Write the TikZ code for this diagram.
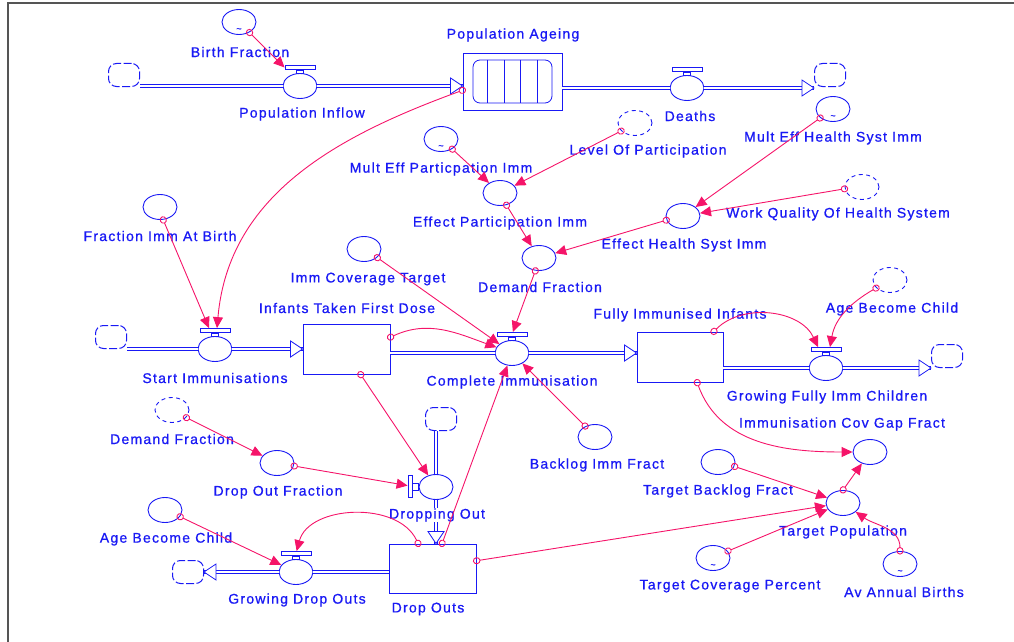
\documentclass[tikz,border=0pt]{standalone}
\usepackage{fontspec}
\newfontfamily\lblfont{Liberation Sans}[LetterSpace=9,FakeBold=0.8]
\usetikzlibrary{shapes.geometric,arrows.meta,calc}
\definecolor{linkpink}{RGB}{245,20,105}
\definecolor{sfblue}{RGB}{25,25,245}
\definecolor{framegray}{RGB}{85,85,85}
\begin{document}
\begin{tikzpicture}[x=1pt,y=1pt,
 aux/.style={ellipse, draw=sfblue, line width=0.9pt, fill=white, minimum width=34pt, minimum height=25pt, inner sep=0pt},
 ghost/.style={aux, dash pattern=on 4pt off 3.5pt},
 stockbox/.style={rectangle, draw=sfblue, line width=0.9pt, fill=white, inner sep=0pt},
 cloudbox/.style={rectangle, rounded corners=8pt, draw=sfblue, line width=1pt, dash pattern=on 8pt off 2.5pt, minimum width=31pt, minimum height=23pt, inner sep=0pt},
 hvalve/.style={rectangle, draw=sfblue, line width=0.8pt, fill=white, minimum width=30pt, minimum height=4pt, inner sep=0pt},
 vvalve/.style={rectangle, draw=sfblue, line width=0.8pt, fill=white, minimum width=4pt, minimum height=22pt, inner sep=0pt},
 valvestem/.style={draw=sfblue, line width=0.8pt, fill=white},
 pipe/.style={draw=sfblue, line width=0.8pt, double=white, double distance=2.4pt},
 link/.style={draw=linkpink, line width=0.9pt, {Circle[open,length=7.5pt,width=7pt]}-{Triangle[length=11pt,width=10pt]}, shorten <=-3.5pt},
 lbl/.style={text=sfblue, fill=white, font=\lblfont\fontsize{14}{16}\selectfont, inner sep=0.5pt},
 tilde/.style={text=sfblue, font=\lblfont\fontsize{9}{9}\selectfont, inner sep=0pt},
 fhead/.pic={\draw[sfblue, line width=0.8pt, fill=white] (0,0) -- (-12,8) -- (-12,-8) -- cycle;}
]
\useasboundingbox (0,0) rectangle (1014,-642);
\draw[framegray, line width=1.4pt] (8,-642) -- (8,-3) -- (1014,-3);

% ---------- clouds ----------
\node[cloudbox] (c1) at (124,-75) {};
\node[cloudbox] (c2) at (830,-75) {};
\node[cloudbox] (c3) at (111,-337) {};
\node[cloudbox] (c4) at (947,-356) {};
\node[cloudbox] (c5) at (441,-419) {};
\node[cloudbox] (c6) at (188,-572) {};

% ---------- stocks ----------
\node[stockbox, minimum width=99pt, minimum height=57pt] (pa) at (512.5,-81.5) {};
\draw[sfblue, line width=0.8pt, rounded corners=7pt] ($(pa)+(-39.5,21.5)$) rectangle ($(pa)+(39.5,-21.5)$);
\foreach \dx in {-25,-8,8,25} \draw[sfblue, line width=0.8pt] ($(pa)+(\dx,21.5)$) -- ($(pa)+(\dx,-21.5)$);
\node[stockbox, minimum width=87pt, minimum height=50pt] (itfd) at (346.5,-349) {};
\node[stockbox, minimum width=86pt, minimum height=50pt] (fii) at (680,-357) {};
\node[stockbox, minimum width=87pt, minimum height=49pt] (dos) at (432.5,-568.5) {};

% ---------- flows ----------
\node[aux] (pinf) at (300,-86) {};
\node[hvalve] (pinfv) at (300,-67.5) {};
\draw[valvestem] ($(pinfv.south)+(-3.5,0)$) rectangle ($(pinf.north)+(3.5,0)$);
\node[aux] (deaths) at (687,-88) {};
\node[hvalve] (deathsv) at (687,-69.5) {};
\draw[valvestem] ($(deathsv.south)+(-3.5,0)$) rectangle ($(deaths.north)+(3.5,0)$);
\node[aux] (si) at (215,-349) {};
\node[hvalve] (siv) at (215,-330.5) {};
\draw[valvestem] ($(siv.south)+(-3.5,0)$) rectangle ($(si.north)+(3.5,0)$);
\node[aux] (ci) at (512,-353) {};
\node[hvalve] (civ) at (512,-334.5) {};
\draw[valvestem] ($(civ.south)+(-3.5,0)$) rectangle ($(ci.north)+(3.5,0)$);
\node[aux] (gfic) at (826,-368) {};
\node[hvalve] (gficv) at (826,-349.5) {};
\draw[valvestem] ($(gficv.south)+(-3.5,0)$) rectangle ($(gfic.north)+(3.5,0)$);
\node[aux] (gdo) at (296,-572) {};
\node[hvalve] (gdov) at (296,-553.5) {};
\draw[valvestem] ($(gdov.south)+(-3.5,0)$) rectangle ($(gdo.north)+(3.5,0)$);
\node[aux] (do) at (436,-487) {};
\node[vvalve] (dov) at (410,-486) {};
\draw[valvestem] ($(dov.east)+(0,3)$) rectangle ($(do.west)+(0,-3)$);

% ---------- auxiliaries ----------
\node[aux] (bf) at (239,-22) {};
\node[ghost] (lop) at (635,-123) {};
\node[aux] (mehs) at (833,-109) {};
\node[aux] (mepi) at (441,-139) {};
\node[aux] (epi) at (500,-193) {};
\node[ghost] (wqhs) at (862,-187) {};
\node[aux] (ehs) at (683,-216) {};
\node[aux] (df) at (539,-258) {};
\node[aux] (fiab) at (160,-207) {};
\node[aux] (ict) at (364,-249) {};
\node[ghost] (abc1) at (890,-280) {};
\node[aux] (bif) at (595,-437) {};
\node[aux] (icgf) at (870,-452) {};
\node[aux] (tbf) at (718,-462) {};
\node[aux] (tp) at (843,-503) {};
\node[aux] (tcp) at (713,-558) {};
\node[aux] (aab) at (900,-564) {};
\node[ghost] (df2) at (172,-410) {};
\node[aux] (dof) at (277,-463) {};
\node[aux] (abc2) at (165,-510) {};

% tildes of graphical functions
\node[tilde] (bf-t) at ($(bf)+(0,-8)$) {\textasciitilde};
\node[tilde] (mehs-t) at ($(mehs)+(0,-8)$) {\textasciitilde};
\node[tilde] (mepi-t) at ($(mepi)+(0,-8)$) {\textasciitilde};
\node[tilde] (tcp-t) at ($(tcp)+(0,-8)$) {\textasciitilde};
\node[tilde] (aab-t) at ($(aab)+(0,-8)$) {\textasciitilde};

% ---------- pipes ----------
\draw[pipe] (c1.east |- pinf) -- (pinf.west);
\draw[pipe] (pinf.east) -- (pa.west |- pinf);
\pic at (pa.west |- pinf) {fhead};
\draw[pipe] (pa.east |- deaths) -- (deaths.west);
\draw[pipe] (deaths.east) -- (c2.west |- deaths);
\pic at (c2.west |- deaths) {fhead};
\draw[pipe] (c3.east |- si) -- (si.west);
\draw[pipe] (si.east) -- (itfd.west |- si);
\pic at (itfd.west |- si) {fhead};
\draw[pipe] (itfd.east |- ci) -- (ci.west);
\draw[pipe] (ci.east) -- (fii.west |- ci);
\pic at (fii.west |- ci) {fhead};
\draw[pipe] (fii.east |- gfic) -- (gfic.west);
\draw[pipe] (gfic.east) -- (c4.west |- gfic);
\pic at (c4.west |- gfic) {fhead};
\draw[pipe] (c5.south -| do) -- (do.north);
\draw[pipe] (do.south) -- (dos.north -| do);
\pic[rotate=-90] at (dos.north -| do) {fhead};
\draw[pipe] (dos.west |- gdo) -- (gdo.east);
\draw[pipe] (gdo.west) -- (c6.east |- gdo);
\pic[rotate=180] at (c6.east |- gdo) {fhead};

% ---------- labels ----------
\node[lbl] (bf-l) at (240,-52) {Birth Fraction};
\node[lbl] (pinf-l) at (302,-114) {Population Inflow};
\node[lbl] (pa-l) at (513,-35) {Population Ageing};
\node[lbl] (deaths-l) at (690,-116) {Deaths};
\node[lbl] (lop-l) at (648,-151) {Level Of Participation};
\node[lbl] (mehs-l) at (833,-138) {Mult Eff Health Syst Imm};
\node[lbl] (mepi-l) at (441,-169) {Mult Eff Particpation Imm};
\node[lbl] (epi-l) at (500,-223) {Effect Participation Imm};
\node[lbl] (wqhs-l) at (838,-214) {Work Quality Of Health System};
\node[lbl] (ehs-l) at (684,-245) {Effect Health Syst Imm};
\node[lbl] (df-l) at (540,-287) {Demand Fraction};
\node[lbl] (fiab-l) at (160,-236) {Fraction Imm At Birth};
\node[lbl] (ict-l) at (368,-279) {Imm Coverage Target};
\node[lbl] (itfd-l) at (347,-308) {Infants Taken First Dose};
\node[lbl] (si-l) at (215,-378) {Start Immunisations};
\node[lbl] (ci-l) at (512,-382) {Complete Immunisation};
\node[lbl] (fii-l) at (680,-315) {Fully Immunised Infants};
\node[lbl] (abc1-l) at (892,-309) {Age Become Child};
\node[lbl] (gfic-l) at (827,-397) {Growing Fully Imm Children};
\node[lbl] (icgf-l) at (842,-424) {Immunisation Cov Gap Fract};
\node[lbl] (bif-l) at (597,-465) {Backlog Imm Fract};
\node[lbl] (tbf-l) at (718,-491) {Target Backlog Fract};
\node[lbl] (tp-l) at (843,-532) {Target Population};
\node[lbl] (tcp-l) at (730,-586) {Target Coverage Percent};
\node[lbl] (aab-l) at (904,-592) {Av Annual Births};
\node[lbl] (df2-l) at (172,-439) {Demand Fraction};
\node[lbl] (dof-l) at (278,-492) {Drop Out Fraction};
\node[lbl] (do-l) at (437,-515) {Dropping Out};
\node[lbl] (abc2-l) at (166,-539) {Age Become Child};
\node[lbl] (gdo-l) at (297,-600) {Growing Drop Outs};
\node[lbl] (dos-l) at (428,-609) {Drop Outs};

% ---------- connectors ----------
\draw[link] (bf.-45) -- (pinfv.west);
\draw[link] (pa.190) to[out=200,in=85] ($(siv.north)+(2,0)$);
\draw[link] (fiab.-76) -- ($(siv.north)+(-6,0)$);
\draw[link] (mepi.-42) -- (epi);
\draw[link] (lop.210) -- (epi);
\draw[link] (epi.-62) -- (df);
\draw[link] (mehs.215) -- (ehs);
\draw[link] (wqhs.186) -- (ehs);
\draw[link] (ehs.194) -- (df);
\draw[link] (df.254) -- (civ);
\draw[link] (ict.-33) -- (ci);
\draw[link] (itfd.15) to[out=25,in=160] (ci);
\draw[link] (bif.132) -- (ci);
\draw[link] (dos.69) -- (ci);
\draw[link] (itfd.-61) -- (do);
\draw[link] (df2.-28) -- (dof);
\draw[link] (dof.-10) -- (dov);
\draw[link] (abc2.-24) -- (gdo);
\draw[link] (dos.120) to[out=115,in=75] (gdov);
\draw[link] (dos.10) -- (tp);
\draw[link] (fii.37) to[out=45,in=115] ($(gficv.north)+(-8,0)$);
\draw[link] (abc1.210) to[out=210,in=80] ($(gficv.north)+(4,0)$);
\draw[link] (fii.-56) to[out=-70,in=180] (icgf);
\draw[link] (tbf.-15) -- (tp);
\draw[link] (tp.north) -- (icgf);
\draw[link] (tcp.25) -- (tp);
\draw[link] (aab.north) to[out=90,in=-35] (tp);
\end{tikzpicture}
\end{document}
